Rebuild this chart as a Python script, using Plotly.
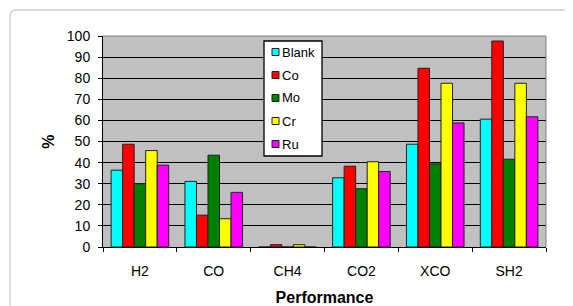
import plotly.graph_objects as go

categories = ["H2", "CO", "CH4", "CO2", "XCO", "SH2"]
blank = [36.4, 31.1, 0, 32.8, 48.7, 60.6]
co = [48.7, 15.1, 1.1, 38.3, 84.7, 97.6]
mo = [30.0, 43.5, 0, 27.6, 39.4, 41.6]
cr = [45.7, 13.4, 1.1, 40.4, 77.6, 77.6]
ru = [38.8, 25.9, 0, 35.8, 58.8, 61.7]

series = [("Blank", blank, "#00FFFF"), ("Co", co, "#FF0000"), ("Mo", mo, "#008000"),
          ("Cr", cr, "#FFFF00"), ("Ru", ru, "#FF00FF")]

fig = go.Figure()
for name, vals, col in series:
    fig.add_trace(go.Bar(x=categories, y=vals, name=name, showlegend=False,
                         marker=dict(color=col, line=dict(color="#202020", width=1))))

OFF = 8  # default page body margin
W, H = 573 - OFF, 306 - OFF
L, R, T, B = 103 - OFF, 27, 36 - OFF, 59
pw, ph = W - L - R, H - T - B

def px2paper(x, y):
    # x, y given in window pixels
    return (x - OFF - L) / pw, 1 - (y - OFF - T) / ph

shapes = []
# card border
x0, y0 = px2paper(10, 10)
x1, y1 = px2paper(580, 320)
rx, ry = 6 / pw, 6 / ph
path = f"M {x0},{y1} L {x0},{y0 - ry} Q {x0},{y0} {x0 + rx},{y0} L {x1},{y0}"
shapes.append(dict(type="path", path=path, xref="paper", yref="paper",
                   line=dict(color="#cfcfcf", width=1.5), layer="below"))
# plot-area right and top border
shapes.append(dict(type="line", xref="paper", yref="paper", x0=1, x1=1, y0=0, y1=1,
                   line=dict(color="#808080", width=1)))
shapes.append(dict(type="line", xref="paper", yref="paper", x0=0, x1=1, y0=1, y1=1,
                   line=dict(color="#808080", width=1.2)))

# manual legend box
lx0, ly0 = px2paper(264, 41)
lx1, ly1 = px2paper(322, 156)
shapes.append(dict(type="rect", xref="paper", yref="paper", x0=lx0, x1=lx1, y0=ly1, y1=ly0,
                   fillcolor="white", line=dict(color="black", width=1.3), layer="above"))
annotations = []
item_y = [52, 75, 98, 121, 144]
for (name, vals, col), iy in zip(series, item_y):
    sx0, sy0 = px2paper(272, iy - 3.5)
    sx1, sy1 = px2paper(279, iy + 3.5)
    shapes.append(dict(type="rect", xref="paper", yref="paper", x0=sx0, x1=sx1, y0=sy1, y1=sy0,
                       fillcolor=col, line=dict(color="#202020", width=1), layer="above"))
    tx, ty = px2paper(280, iy)
    annotations.append(dict(x=tx, y=ty, xref="paper", yref="paper", text=name,
                            showarrow=False, xanchor="left", yanchor="middle",
                            font=dict(size=13, color="black")))

fig.update_layout(
    width=W, height=H,
    margin=dict(l=L, r=R, t=T, b=B),
    barmode="group", bargap=0.22, bargroupgap=0,
    plot_bgcolor="#C0C0C0", paper_bgcolor="white",
    font=dict(family="Liberation Sans, Arial", size=14, color="black"),
    shapes=shapes, annotations=annotations,
    xaxis=dict(tickson="boundaries", ticks="outside", ticklen=4, tickcolor="black",
               showline=True, linecolor="black", linewidth=1,
               ticklabelstandoff=11, automargin=False,
               title=dict(text="<b>Performance</b>", standoff=19, font=dict(size=16))),
    yaxis=dict(range=[0, 100], dtick=10, ticks="outside", ticklen=4, tickcolor="black",
               showline=True, linecolor="black", linewidth=1,
               showgrid=True, gridcolor="black", gridwidth=1, zeroline=False,
               ticklabelstandoff=5, automargin=False,
               title=dict(text="<b>%</b>", standoff=8, font=dict(size=16))),
)

fig.write_html("out.html")
